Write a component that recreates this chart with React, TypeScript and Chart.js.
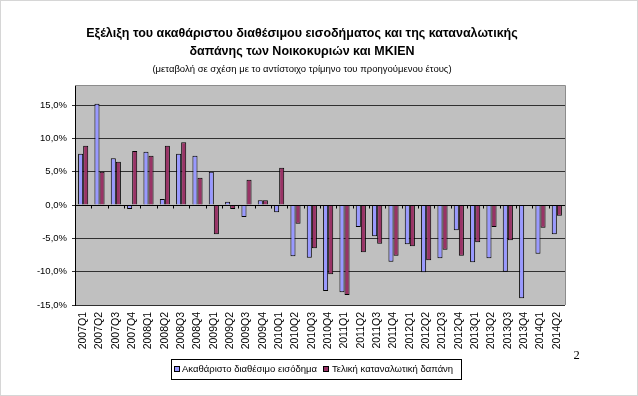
import React, { useEffect, useRef } from "react";
import { Chart, registerables } from "chart.js";
Chart.register(...registerables);

const categories = [
  "2007Q1", "2007Q2", "2007Q3", "2007Q4",
  "2008Q1", "2008Q2", "2008Q3", "2008Q4",
  "2009Q1", "2009Q2", "2009Q3", "2009Q4",
  "2010Q1", "2010Q2", "2010Q3", "2010Q4",
  "2011Q1", "2011Q2", "2011Q3", "2011Q4",
  "2012Q1", "2012Q2", "2012Q3", "2012Q4",
  "2013Q1", "2013Q2", "2013Q3", "2013Q4",
  "2014Q1", "2014Q2",
];
const income = [
  7.7, 15.2, 7.0, -0.6,
  8.0, 0.9, 7.7, 7.4,
  5.0, 0.5, -1.8, 0.7,
  -1.1, -7.7, -7.9, -12.9,
  -13.1, -3.3, -4.7, -8.5,
  -5.9, -10.1, -8.0, -3.8,
  -8.6, -8.0, -10.0, -14.0,
  -7.3, -4.4,
];
const consumption = [
  8.9, 5.0, 6.5, 8.1,
  7.4, 8.9, 9.4, 4.1,
  -4.4, -0.6, 3.8, 0.7,
  5.6, -2.8, -6.5, -10.4,
  -13.5, -7.1, -5.8, -7.6,
  -6.2, -8.3, -6.7, -7.6,
  -5.6, -3.3, -5.3, -0.1,
  -3.4, -1.6,
];
const yTicks = [-15, -10, -5, 0, 5, 10, 15];
const titleLines = [
  "Εξέλιξη του ακαθάριστου διαθέσιμου εισοδήματος και της καταναλωτικής",
  "δαπάνης των Νοικοκυριών και ΜΚΙΕΝ",
];
const subtitle = "(μεταβολή σε σχέση με το αντίστοιχο τρίμηνο του προηγούμενου έτους)";
const seriesNames = ["Ακαθάριστο διαθέσιμο εισόδημα", "Τελική καταναλωτική δαπάνη"];
const pageNumber = "2";

const BLUE = "#9999FF";
const RED = "#993366";
const FONT = "'Liberation Sans', Arial, sans-serif";

const decorPlugin = {
  id: "decor",
  beforeDraw(chart: any) {
    const { ctx, chartArea: a } = chart;
    ctx.save();
    ctx.fillStyle = "#ffffff";
    ctx.fillRect(0, 0, chart.width, chart.height);
    ctx.fillStyle = "#C0C0C0";
    ctx.fillRect(a.left, a.top, a.right - a.left, a.bottom - a.top);
    ctx.restore();
  },
  afterDatasetsDraw(chart: any) {
    const { ctx, chartArea: a, scales } = chart;
    const y0 = Math.round(scales.y.getPixelForValue(0)) + 0.5;
    ctx.save();
    ctx.strokeStyle = "#000";
    ctx.lineWidth = 1;
    ctx.beginPath();
    ctx.moveTo(a.left, y0);
    ctx.lineTo(a.right, y0);
    const n = categories.length;
    const w = (a.right - a.left) / n;
    for (let i = 1; i <= n; i++) {
      const x = Math.round(a.left + i * w) + 0.5;
      ctx.moveTo(x, y0);
      ctx.lineTo(x, y0 + 3);
    }
    ctx.stroke();
    ctx.strokeStyle = "#8c8c8c";
    ctx.beginPath();
    ctx.moveTo(a.left, a.top + 0.5);
    ctx.lineTo(a.right + 0.5, a.top + 0.5);
    ctx.lineTo(a.right + 0.5, a.bottom);
    ctx.stroke();
    ctx.restore();
  },
  afterDraw(chart: any) {
    const { ctx } = chart;
    ctx.save();
    ctx.fillStyle = "#000";
    ctx.textAlign = "center";
    ctx.textBaseline = "middle";
    ctx.font = `bold 12.5px ${FONT}`;
    ctx.fillText(titleLines[0], 302, 34);
    ctx.fillText(titleLines[1], 302, 52);
    ctx.font = `9.5px ${FONT}`;
    ctx.fillText(subtitle, 302, 69);

    const lx = 171, ly = 359, lw = 290, lh = 20;
    ctx.fillStyle = "#fff";
    ctx.fillRect(lx, ly, lw, lh);
    ctx.strokeStyle = "#000";
    ctx.lineWidth = 1;
    ctx.strokeRect(lx + 0.5, ly + 0.5, lw, lh);
    ctx.font = `9.5px ${FONT}`;
    ctx.textAlign = "left";
    const items = [
      { x: 174, tx: 182, c: BLUE, t: seriesNames[0] },
      { x: 323, tx: 332, c: RED, t: seriesNames[1] },
    ];
    items.forEach((it) => {
      ctx.fillStyle = it.c;
      ctx.fillRect(it.x + 0.5, ly + 7.5, 5, 5);
      ctx.strokeStyle = "#000";
      ctx.strokeRect(it.x + 0.5, ly + 7.5, 5, 5);
      ctx.fillStyle = "#000";
      ctx.fillText(it.t, it.tx, ly + 10.5);
    });

    ctx.font = `12.5px 'Liberation Serif', 'Times New Roman', serif`;
    ctx.textAlign = "center";
    ctx.fillText(pageNumber, 576.5, 356);

    ctx.strokeStyle = "#d6d6d6";
    ctx.strokeRect(0.5, 0.5, chart.width - 1, chart.height - 1);
    ctx.restore();
  },
};

export default function App() {
  const ref = useRef<HTMLCanvasElement | null>(null);
  useEffect(() => {
    if (!ref.current) return;
    const chart = new Chart(ref.current, {
      type: "bar",
      data: {
        labels: categories,
        datasets: [
          {
            label: seriesNames[0],
            data: income,
            backgroundColor: BLUE,
            borderColor: "#000",
            borderWidth: 1,
            categoryPercentage: 0.62,
            barPercentage: 1,
          },
          {
            label: seriesNames[1],
            data: consumption,
            backgroundColor: RED,
            borderColor: "#000",
            borderWidth: 1,
            categoryPercentage: 0.62,
            barPercentage: 1,
          },
        ],
      },
      options: {
        responsive: false,
        animation: false,
        devicePixelRatio: 1,
        layout: { padding: { left: 30, right: 73, top: 85, bottom: 21 } },
        plugins: { legend: { display: false }, title: { display: false }, tooltip: { enabled: false } },
        scales: {
          x: {
            grid: { display: false, drawTicks: false },
            border: { display: false },
            ticks: {
              autoSkip: false,
              maxRotation: 90,
              minRotation: 90,
              padding: 7,
              color: "#000",
              font: { family: FONT, size: 10.5 },
            },
            afterFit: (s: any) => { s.height = 70; },
          },
          y: {
            min: -15,
            max: 18,
            afterBuildTicks: (s: any) => { s.ticks = yTicks.map((v) => ({ value: v })); },
            afterFit: (s: any) => { s.width = 45; },
            grid: { color: "#303030", lineWidth: 1, tickLength: 3 },
            border: { display: true, color: "#000" },
            ticks: {
              padding: 5,
              color: "#000",
              font: { family: FONT, size: 9.5 },
              callback: (v: any) => Number(v).toFixed(1).replace(".", ",") + "%",
            },
          },
        },
      },
      plugins: [decorPlugin],
    } as any);
    return () => chart.destroy();
  }, []);
  return (
    <div style={{ position: "fixed", left: 0, top: 0, width: 638, height: 396 }}>
      <canvas ref={ref} width={638} height={396} />
    </div>
  );
}
